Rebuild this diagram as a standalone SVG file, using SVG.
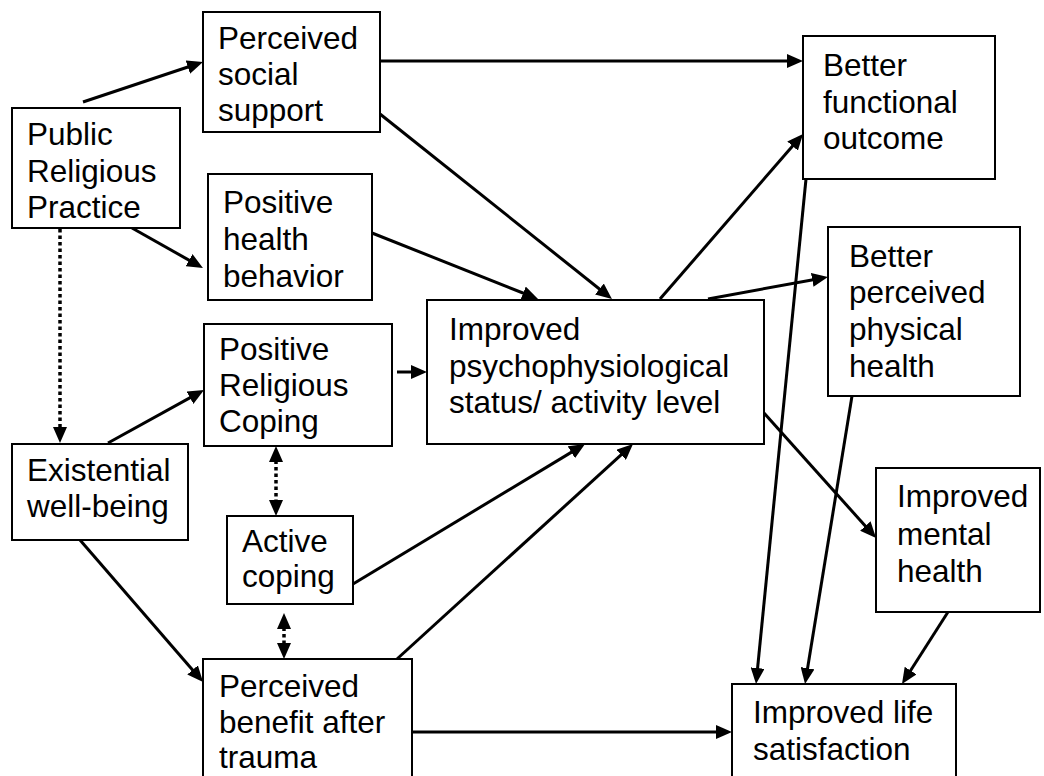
<svg xmlns="http://www.w3.org/2000/svg" width="1044" height="776" viewBox="0 0 1044 776">
<style>
.box{fill:#fff;stroke:#000;stroke-width:2}
.t{font-family:"Liberation Sans",Arial,sans-serif;font-size:31.5px;fill:#000}
.c{stroke:#000;stroke-width:3;fill:none;marker-end:url(#ah)}
.d{stroke:#000;stroke-width:3.5;fill:none;stroke-dasharray:3.5 3;marker-end:url(#ah)}
.dd{marker-start:url(#ah)}
</style>
<defs>
<marker id="ah" markerUnits="userSpaceOnUse" markerWidth="16" markerHeight="14" refX="8" refY="7" orient="auto-start-reverse">
<path d="M0,0 L16,7 L0,14 z" fill="#000"/>
</marker>
</defs>
<rect width="1044" height="776" fill="#fff"/>
<g id="connectors">
<line class="c" x1="83" y1="102" x2="195.4" y2="64.5"/>
<line class="c" x1="132" y1="228" x2="196" y2="264.1"/>
<line class="c" x1="380" y1="61" x2="795" y2="61"/>
<line class="c" x1="380" y1="114" x2="605.7" y2="294"/>
<line class="c" x1="372" y1="233" x2="530.6" y2="296"/>
<line class="c" x1="660" y1="299" x2="797.8" y2="140"/>
<line class="c" x1="708" y1="299" x2="820.1" y2="278.4"/>
<line class="c" x1="764" y1="413" x2="870.7" y2="532"/>
<line class="c" x1="806" y1="179" x2="756.8" y2="676"/>
<line class="c" x1="852" y1="396" x2="806.3" y2="676.1"/>
<line class="c" x1="948" y1="612" x2="906.3" y2="677.3"/>
<line class="c" x1="397" y1="372" x2="419" y2="372"/>
<line class="c" x1="108" y1="443" x2="197" y2="393.9"/>
<line class="c" x1="80" y1="540" x2="197.8" y2="676"/>
<line class="c" x1="353" y1="584" x2="578.2" y2="448.1"/>
<line class="c" x1="397" y1="659" x2="627.1" y2="449.4"/>
<line class="c" x1="412" y1="732" x2="724" y2="732"/>
<line class="d" x1="60" y1="229" x2="60" y2="435"/>
<line class="d dd" x1="276" y1="454" x2="276" y2="508"/>
<line class="d dd" x1="284" y1="621" x2="284" y2="651"/>
</g>
<g id="public">
<rect class="box" x="12" y="108" width="168" height="120"/>
<text class="t" x="27" y="145">Public</text>
<text class="t" x="27" y="182">Religious</text>
<text class="t" x="27" y="218">Practice</text>
</g>
<g id="social">
<rect class="box" x="203" y="12" width="177" height="120"/>
<text class="t" x="218" y="49">Perceived</text>
<text class="t" x="218" y="85">social</text>
<text class="t" x="218" y="121">support</text>
</g>
<g id="health">
<rect class="box" x="208" y="174" width="164" height="126"/>
<text class="t" x="223" y="213">Positive</text>
<text class="t" x="223" y="250">health</text>
<text class="t" x="223" y="287">behavior</text>
</g>
<g id="prc">
<rect class="box" x="204" y="324" width="188" height="122"/>
<text class="t" x="219" y="360">Positive</text>
<text class="t" x="219" y="396">Religious</text>
<text class="t" x="219" y="432">Coping</text>
</g>
<g id="existential">
<rect class="box" x="12" y="444" width="176" height="96"/>
<text class="t" x="27" y="481">Existential</text>
<text class="t" x="27" y="517">well-being</text>
</g>
<g id="active">
<rect class="box" x="227" y="516" width="126" height="88"/>
<text class="t" x="242" y="552">Active</text>
<text class="t" x="242" y="587">coping</text>
</g>
<g id="benefit">
<rect class="box" x="203" y="659" width="209" height="140"/>
<text class="t" x="219" y="697">Perceived</text>
<text class="t" x="219" y="733">benefit after</text>
<text class="t" x="219" y="768">trauma</text>
</g>
<g id="psycho">
<rect class="box" x="427" y="300" width="337" height="144"/>
<text class="t" x="449" y="340">Improved</text>
<text class="t" x="449" y="377">psychophysiological</text>
<text class="t" x="449" y="413">status/ activity level</text>
</g>
<g id="functional">
<rect class="box" x="803" y="36" width="192" height="143"/>
<text class="t" x="823" y="76">Better</text>
<text class="t" x="823" y="113">functional</text>
<text class="t" x="823" y="149">outcome</text>
</g>
<g id="physical">
<rect class="box" x="828" y="227" width="192" height="169"/>
<text class="t" x="849" y="267">Better</text>
<text class="t" x="849" y="303">perceived</text>
<text class="t" x="849" y="340">physical</text>
<text class="t" x="849" y="377">health</text>
</g>
<g id="mental">
<rect class="box" x="876" y="468" width="164" height="144"/>
<text class="t" x="897" y="507">Improved</text>
<text class="t" x="897" y="545">mental</text>
<text class="t" x="897" y="582">health</text>
</g>
<g id="life">
<rect class="box" x="732" y="684" width="224" height="120"/>
<text class="t" x="753" y="723">Improved life</text>
<text class="t" x="753" y="760">satisfaction</text>
</g>
</svg>
